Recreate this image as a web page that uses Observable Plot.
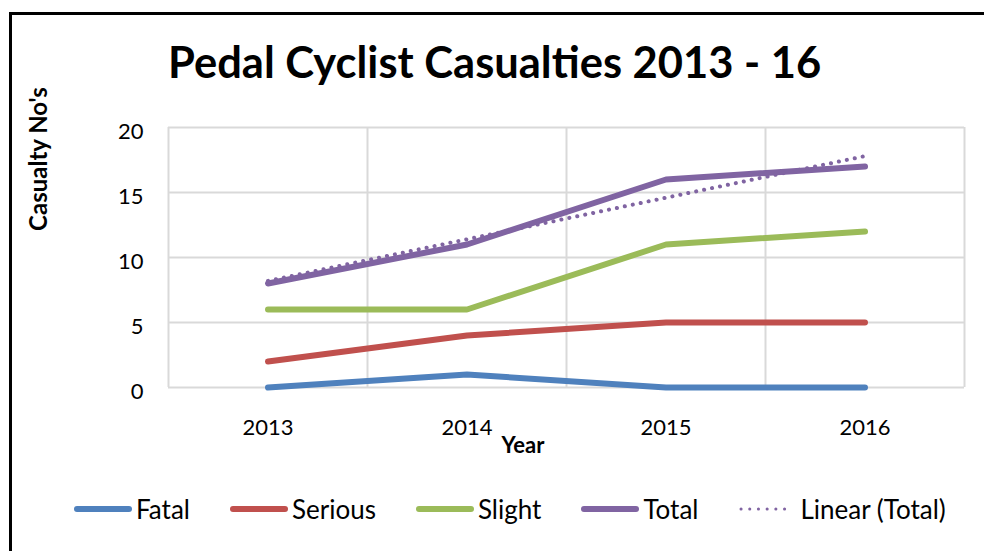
<!DOCTYPE html>
<html><head><meta charset="utf-8">
<script src="https://cdn.jsdelivr.net/npm/d3@7"></script>
<script src="https://cdn.jsdelivr.net/npm/@observablehq/plot@0.6"></script>
<style>
body{margin:0;background:#fff;}
#wrap{position:relative;width:984px;height:551px;overflow:hidden;font-family:Lato,"DejaVu Sans",sans-serif;color:#000;background:#fff;}
#frame{position:absolute;left:9px;top:12px;width:1100px;height:700px;border-left:3px solid #000;border-top:3px solid #000;}
#title{position:absolute;left:168px;top:40px;font-weight:700;font-size:43.5px;line-height:1;white-space:nowrap;transform-origin:0 0;}
#ylab{position:absolute;left:38px;top:159px;font-weight:700;font-size:24px;line-height:1;white-space:nowrap;transform:translate(-50%,-50%) rotate(-90deg);}
#xlab{position:absolute;left:523px;top:445px;font-weight:700;font-size:22px;line-height:1;white-space:nowrap;transform:translate(-50%,-50%);}
#chart{position:absolute;left:0;top:100px;}
#legend{position:absolute;left:73px;top:495px;display:flex;align-items:center;gap:39px;font-size:26px;line-height:28px;white-space:nowrap;}
.item{display:flex;align-items:center;gap:4px;}
</style>
</head><body>
<div id="wrap">
  <div id="frame"></div>
  <div id="title">Pedal Cyclist Casualties 2013 - 16</div>
  <div id="ylab">Casualty No's</div>
  <div id="chart"></div>
  <div id="xlab">Year</div>
  <div id="legend"></div>
</div>
<script>
const years = ["2013", "2014", "2015", "2016"];
const yearNums = [2013, 2014, 2015, 2016];
const seriesNames = ["Fatal", "Serious", "Slight", "Total"];
const fatal = [0, 1, 0, 0];
const serious = [2, 4, 5, 5];
const slight = [6, 6, 11, 12];
const total = [8, 11, 16, 17];
const linearTotal = [8.2, 11.4, 14.6, 17.8];
const trendName = "Linear (Total)";
const colors = ["#4f81bd", "#c0504d", "#9bbb59", "#8064a2"];
const yTicks = [0, 5, 10, 15, 20];

const seriesValues = [fatal, serious, slight, total];
const rows = [];
seriesNames.forEach((s, si) => yearNums.forEach((y, i) => rows.push({series: s, year: y, value: seriesValues[si][i]})));
const trendRows = yearNums.map((y, i) => ({year: y, value: linearTotal[i]}));
const bounds = yearNums.map(y => y - 0.5).concat([yearNums[yearNums.length - 1] + 0.5]);

const chart = Plot.plot({
  width: 984,
  height: 370,
  marginLeft: 168,
  marginRight: 20,
  marginTop: 27,
  marginBottom: 83,
  style: {fontFamily: "Lato, sans-serif", fontSize: "20px", color: "#000", background: "transparent", overflow: "visible"},
  x: {domain: [bounds[0], bounds[bounds.length - 1]]},
  y: {domain: [0, 20]},
  color: {domain: seriesNames, range: colors},
  marks: [
    Plot.ruleY(yTicks, {stroke: "#d9d9d9", strokeWidth: 2}),
    Plot.ruleX(bounds, {stroke: "#d9d9d9", strokeWidth: 2}),
    Plot.axisY({ticks: yTicks, tickSize: 0, tickPadding: 25, label: null, fontSize: 22, dy: 4}),
    Plot.axisX({ticks: yearNums, tickFormat: (d) => years[yearNums.indexOf(d)], tickSize: 0, tickPadding: 32, label: null, fontSize: 22}),
    Plot.line(rows, {x: "year", y: "value", z: "series", stroke: "series", strokeWidth: 6, strokeLinecap: "round", strokeLinejoin: "round"}),
    Plot.line(trendRows, {x: "year", y: "value", stroke: colors[3], strokeWidth: 4, strokeDasharray: "0.1 8", strokeLinecap: "round"})
  ]
});
document.getElementById("chart").appendChild(chart);

const legend = document.getElementById("legend");
seriesNames.concat([trendName]).forEach((name, i) => {
  const item = document.createElement("div");
  item.className = "item";
  const isTrend = i === seriesNames.length;
  const c = isTrend ? colors[3] : colors[i];
  item.innerHTML = `<svg width="59" height="10"><line x1="4" y1="5" x2="56" y2="5" stroke="${c}" stroke-width="${isTrend ? 3 : 6}" stroke-linecap="round" ${isTrend ? 'stroke-dasharray="0.1 8.6"' : ''}/></svg><span>${name}</span>`;
  legend.appendChild(item);
});
</script>
</body></html>
